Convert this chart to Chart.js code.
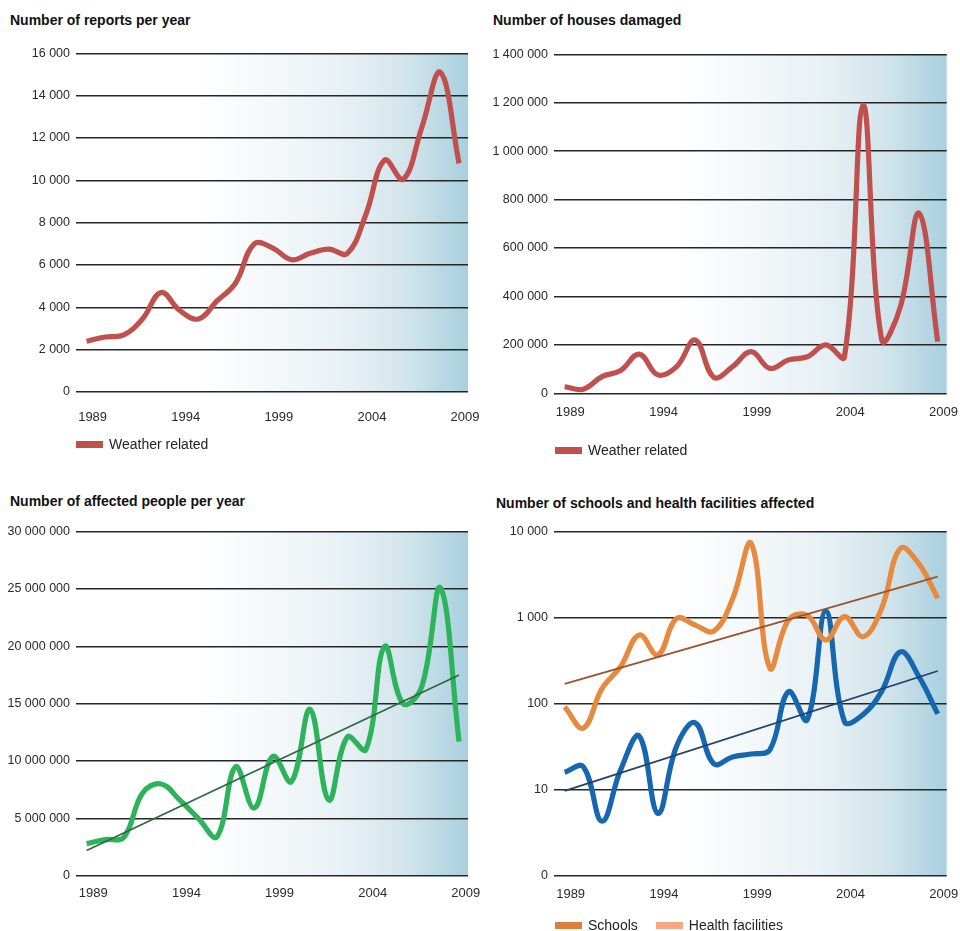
<!DOCTYPE html>
<html>
<head>
<meta charset="utf-8">
<title>Weather related disasters 1989-2009</title>
<script src="https://cdn.jsdelivr.net/npm/chart.js@4.4.1/dist/chart.umd.min.js"></script>
<style>
  body { margin: 0; background: #fff; font-family: "Liberation Sans", Arial, sans-serif; }
  #page { position: relative; width: 960px; height: 931px; overflow: hidden; }
  .title { position: absolute; font-weight: bold; font-size: 14px; line-height: 16px; color: #111; white-space: nowrap; }
  .panel { position: absolute; width: 480px; height: 400px; }
  .legend { position: absolute; display: flex; align-items: center; font-size: 14px; line-height: 16px; color: #222; white-space: nowrap; }
  .legend .item { display: flex; align-items: center; margin-right: 18px; }
  .legend .sw { display: inline-block; width: 27px; height: 7px; margin-right: 6px; }
</style>
</head>
<body>
<div id="page"></div>
<script>
const years = [1989, 1990, 1991, 1992, 1993, 1994, 1995, 1996, 1997, 1998, 1999,
  2000, 2001, 2002, 2003, 2004, 2005, 2006, 2007, 2008, 2009];
const yearTicks = [1989, 1994, 1999, 2004, 2009];

const reports = [2400, 2600, 2700, 3450, 4700, 3850, 3450, 4300, 5150, 7000, 6800,
  6250, 6550, 6750, 6550, 8400, 10950, 10050, 12500, 15100, 10800];

const houses = [27000, 17000, 69000, 94000, 162000, 76000, 110000, 220000, 66000, 110000, 172000,
  103000, 138000, 151000, 200000, 151000, 1190000, 220000, 358000, 743000, 213000];

const affected = [2800000, 3150000, 3350000, 7200000, 8000000, 6600000, 5000000, 3400000, 9500000, 5900000, 10400000,
  8200000, 14500000, 6600000, 12100000, 11000000, 20000000, 15000000, 16500000, 25100000, 11700000];
const affectedTrend = [2200000, 17500000];

const schools = [92, 52, 150, 270, 630, 370, 980, 820, 700, 1650, 7300,
  260, 940, 1070, 550, 1030, 600, 1300, 6400, 4200, 1680];
const health = [16, 18.5, 4.3, 17, 42, 5.3, 32, 60, 20, 24, 26,
  29, 138, 65, 1200, 62, 75, 140, 400, 205, 76];
const schoolsTrend = [170, 3000];
const healthTrend = [9.7, 240];

const logTicks = [1, 10, 100, 1000, 10000];
const logTickLabels = ["0", "10", "100", "1 000", "10 000"];

const legendNames = ["Schools", "Health facilities"];
const legendColors = ["#da7f3c", "#f8a784"];

document.addEventListener("DOMContentLoaded", () => {
  const page = document.getElementById("page");
  page.innerHTML = `
    <div class="title" style="left:10px; top:12px">Number of reports per year</div>
    <div class="title" style="left:493px; top:12px">Number of houses damaged</div>
    <div class="title" style="left:10px; top:493px">Number of affected people per year</div>
    <div class="title" style="left:496px; top:495px">Number of schools and health facilities affected</div>

    <canvas id="chartReports" class="panel" width="480" height="400" style="left:0; top:40px"></canvas>
    <canvas id="chartHouses" class="panel" width="480" height="400" style="left:480px; top:40px"></canvas>
    <canvas id="chartAffected" class="panel" width="480" height="400" style="left:0; top:520px"></canvas>
    <canvas id="chartSchools" class="panel" width="480" height="400" style="left:480px; top:520px"></canvas>

    <div class="legend" style="left:76px; top:436px">
      <div class="item"><span class="sw" style="background:#c0504d"></span>Weather related</div>
    </div>
    <div class="legend" style="left:555px; top:442px">
      <div class="item"><span class="sw" style="background:#c0504d"></span>Weather related</div>
    </div>
    <div class="legend" id="legendSchools" style="left:555px; top:917px"></div>
  `;

  document.getElementById("legendSchools").innerHTML = legendNames
    .map((n, i) => `<div class="item"><span class="sw" style="background:${legendColors[i]}"></span>${n}</div>`)
    .join("");

  makeChart("chartReports",
    [curve(reports, "#c0504d")],
    { type: "linear", min: 0, max: 16000, ticks: { stepSize: 2000, callback: v => spaced(v) } },
    { pad: { left: 6, right: 12, top: 13.3, bottom: 8 }, xPad: 18, offset: 6 });

  makeChart("chartHouses",
    [curve(houses, "#c0504d")],
    { type: "linear", min: 0, max: 1400000, ticks: { stepSize: 200000, callback: v => spaced(v) } },
    { pad: { left: 4, right: 13.3, top: 14.3, bottom: 6.7 }, xPad: 11.4, offset: 5.7 });

  makeChart("chartAffected",
    [trend(affectedTrend, "#2f6a3f"), curve(affected, "#2db35c")],
    { type: "linear", min: 0, max: 30000000, ticks: { stepSize: 5000000, callback: v => spaced(v) } },
    { pad: { left: 6, right: 12, top: 11.7, bottom: 4.3 }, xPad: 9.6, offset: 6.7 });

  makeChart("chartSchools",
    [trend(schoolsTrend, "#9a532e"), trend(healthTrend, "#233f6e"),
     curve(schools, "#e58a3e"), curve(health, "#1766b0")],
    {
      type: "logarithmic", min: 1, max: 10000,
      afterBuildTicks: s => { s.ticks = logTicks.map(v => ({ value: v })); },
      ticks: { callback: v => logTickLabels[logTicks.indexOf(v)] }
    },
    { pad: { left: 4, right: 13.3, top: 11.7, bottom: 4.3 }, xPad: 10.6, offset: 6 });
});

function spaced(n) {
  return String(n).replace(/\B(?=(\d{3})+(?!\d))/g, " ");
}

function curve(values, color) {
  return {
    data: years.map((yr, i) => ({ x: yr, y: values[i] })),
    borderColor: color,
    borderWidth: 5.2,
    borderJoinStyle: "round",
    tension: 0.4,
    pointRadius: 0
  };
}

function trend(ends, color) {
  return {
    data: [{ x: years[0], y: ends[0] }, { x: years[years.length - 1], y: ends[1] }],
    borderColor: color,
    borderWidth: 1.8,
    tension: 0,
    pointRadius: 0
  };
}

// fond dégradé blanc -> bleu dans la zone du graphique
const plotShade = {
  id: "plotShade",
  beforeDraw(chart) {
    const { ctx, chartArea: a } = chart;
    const g = ctx.createLinearGradient(a.left, 0, a.right, 0);
    g.addColorStop(0, "#ffffff");
    g.addColorStop(0.3, "#ffffff");
    g.addColorStop(0.5, "#f4f8fa");
    g.addColorStop(0.7, "#e6f0f4");
    g.addColorStop(0.85, "#d1e4eb");
    g.addColorStop(1, "#a8d0de");
    ctx.save();
    ctx.fillStyle = g;
    ctx.fillRect(a.left, a.top, a.right - a.left, a.bottom - a.top);
    ctx.restore();
  }
};

function makeChart(id, datasets, yScale, layout) {
  const yTicks = Object.assign({ padding: 6, color: "#2a2a2a", font: { size: 12.5 } }, yScale.ticks);
  const y = Object.assign({}, yScale, {
    ticks: yTicks,
    grid: { color: "#262626", lineWidth: 1.6, drawTicks: false },
    border: { display: false },
    afterFit: s => { s.width = 70; s.paddingTop = 0; s.paddingBottom = 0; }
  });

  new Chart(document.getElementById(id), {
    type: "line",
    data: { datasets },
    options: {
      responsive: false,
      animation: false,
      layout: { padding: layout.pad },
      plugins: { legend: { display: false }, title: { display: false }, tooltip: { enabled: false } },
      scales: {
        x: {
          type: "linear",
          min: 1988.43,
          max: 2009.48,
          grid: { display: false, drawTicks: false },
          border: { display: false },
          afterBuildTicks: s => { s.ticks = yearTicks.map(v => ({ value: v })); },
          afterFit: s => { s.height = 40; s.paddingLeft = 0; s.paddingRight = 0; },
          ticks: {
            padding: layout.xPad,
            labelOffset: layout.offset,
            maxRotation: 0,
            autoSkip: false,
            color: "#2a2a2a",
            font: { size: 13 },
            callback: v => String(v)
          }
        },
        y
      }
    },
    plugins: [plotShade]
  });
}
</script>
</body>
</html>
